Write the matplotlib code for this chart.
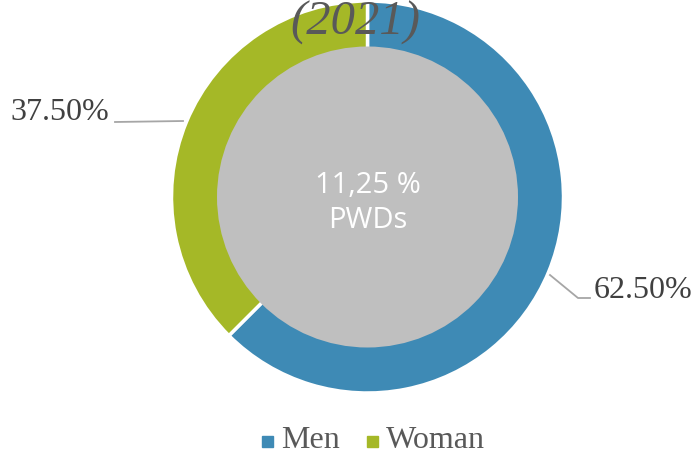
import matplotlib
matplotlib.use('Agg')
import matplotlib.pyplot as plt
from matplotlib.patches import Circle, Rectangle

labels = ['Men', 'Woman']
shares = [62.5, 37.5]
colors = ['#3E8AB5', '#A5B827']
center_text = '11,25 %\nPWDs'
title = '(2021)'

W, H = 692, 457
fig = plt.figure(figsize=(W / 100, H / 100), dpi=100)
ax = fig.add_axes([0, 0, 1, 1])

cx, cy = 367.5, H - 197
r_out, r_in = 196, 150.5
ax.pie(shares, colors=colors, startangle=90, counterclock=False,
       center=(cx, cy), radius=r_out, frame=True,
       wedgeprops=dict(width=r_out - r_in + 4, edgecolor='white', linewidth=2.5))
ax.set_xlim(0, W); ax.set_ylim(0, H); ax.set_aspect('equal'); ax.axis('off')
ax.add_patch(Circle((cx, cy), r_in, facecolor='#BFBFBF', edgecolor='none', zorder=3))
ax.text(cx, cy - 6, center_text, ha='center', va='center', color='white',
        fontsize=21, family='Open Sans', linespacing=1.3, zorder=4)

serif = 'Liberation Serif'
ax.text(355, H - 23, title, ha='center', va='center', fontsize=35, style='italic',
        family=serif, color='#595959', zorder=5)

# leader lines and data labels
lc = '#A6A6A6'
ax.plot([115, 183], [H - 122, H - 121], color=lc, lw=1.3, zorder=4)
ax.text(10, H - 112, f'{shares[1]:.2f}%', ha='left', va='center', fontsize=23,
        family=serif, color='#404040')
ax.plot([550, 578, 590], [H - 275, H - 298, H - 298], color=lc, lw=1.3, zorder=4)
ax.text(594, H - 291, f'{shares[0]:.2f}%', ha='left', va='center', fontsize=23,
        family=serif, color='#404040')

# legend
lx = [262, 367]
for x, lab, col in zip(lx, labels, colors):
    ax.add_patch(Rectangle((x, H - 447), 11, 11, color=col))
    ax.text(x + 19, H - 440, lab, ha='left', va='center', fontsize=23,
            family=serif, color='#595959')

fig.savefig('out.png', dpi=100)
